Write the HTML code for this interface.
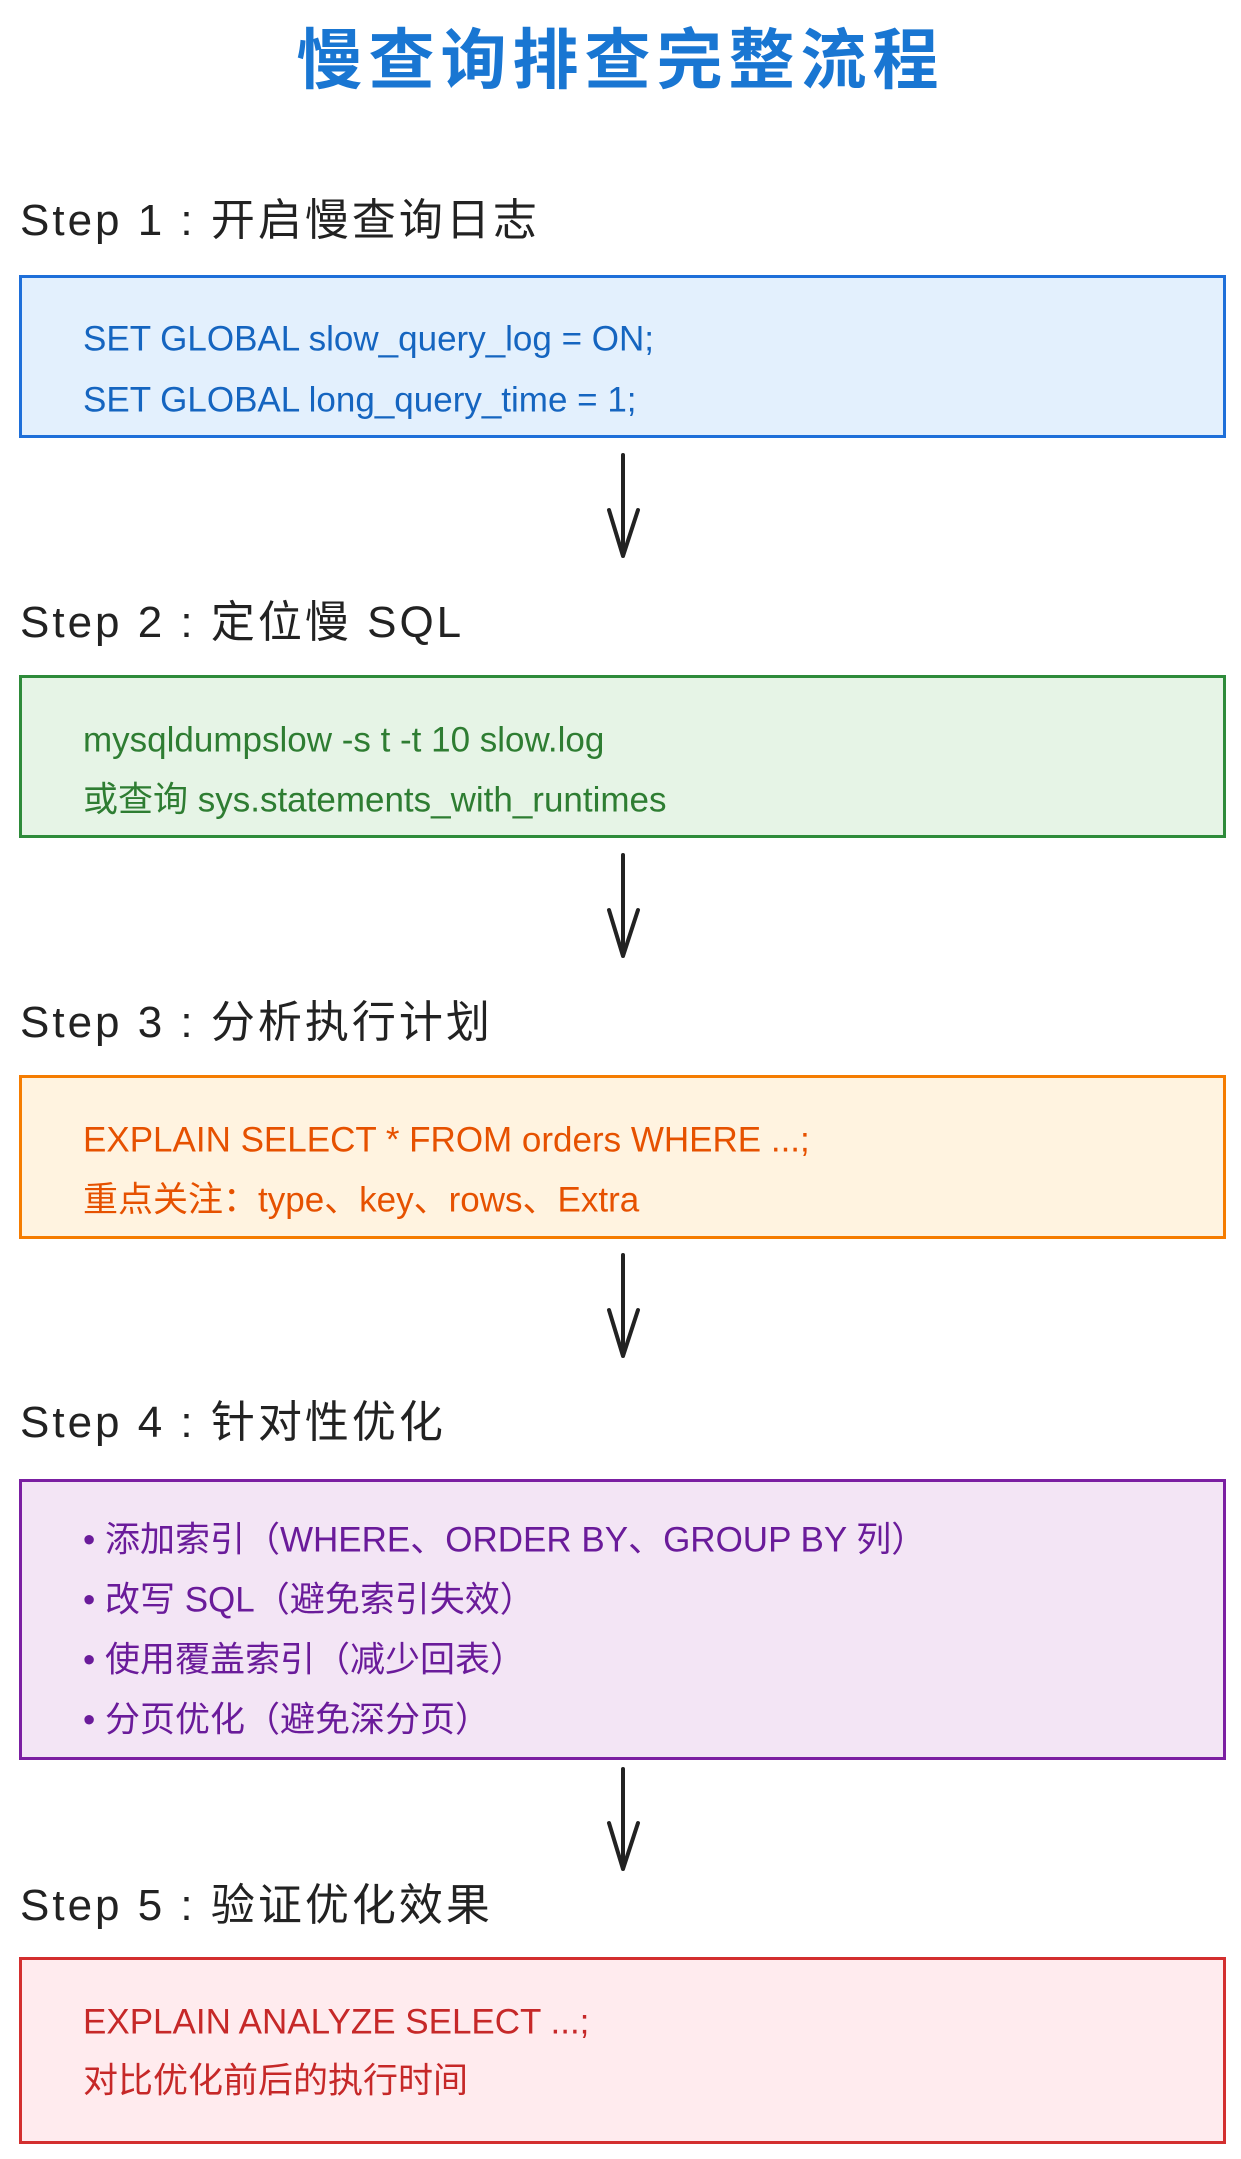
<!DOCTYPE html>
<html><head><meta charset="utf-8"><style>
body{margin:0;width:1241px;height:2159px;background:#fff;position:relative;overflow:hidden;font-family:"Liberation Sans","Noto Sans CJK SC",sans-serif}
.t{position:absolute;white-space:nowrap;line-height:1;transform:translateY(-50%)}
.title{left:0;width:1241px;text-align:center;top:60px;font-size:66px;color:#1976d2;font-weight:bold;letter-spacing:6px}
.lab{left:20px;font-size:44px;color:#222;letter-spacing:3px}
.box{position:absolute;left:19px;width:1201px;border:3px solid}
.ln{left:83px;font-size:35px}
</style></head><body>
<div class="t title">慢查询排查完整流程</div>

<div class="t lab" style="top:221px">Step 1 : 开启慢查询日志</div>
<div class="box" style="top:275px;height:157px;border-color:#1e6fd9;background:#e3f0fd"></div>
<div class="t ln" style="top:339px;color:#1565c0">SET GLOBAL slow_query_log = ON;</div>
<div class="t ln" style="top:400px;color:#1565c0">SET GLOBAL long_query_time = 1;</div>

<div class="t lab" style="top:623px">Step 2 : 定位慢 SQL</div>
<div class="box" style="top:675px;height:157px;border-color:#2e8b3a;background:#e6f4e6"></div>
<div class="t ln" style="top:740px;color:#2e7d32">mysqldumpslow -s t -t 10 slow.log</div>
<div class="t ln" style="top:800px;color:#2e7d32">或查询 sys.statements_with_runtimes</div>

<div class="t lab" style="top:1023px">Step 3 : 分析执行计划</div>
<div class="box" style="top:1075px;height:158px;border-color:#f57c00;background:#fff3e0"></div>
<div class="t ln" style="top:1140px;color:#e65100">EXPLAIN SELECT * FROM orders WHERE ...;</div>
<div class="t ln" style="top:1200px;color:#e65100">重点关注：type、key、rows、Extra</div>

<div class="t lab" style="top:1423px">Step 4 : 针对性优化</div>
<div class="box" style="top:1479px;height:275px;border-color:#7b1fa2;background:#f3e5f5"></div>
<div class="t ln" style="top:1540px;color:#6a1b9a">• 添加索引（WHERE、ORDER BY、GROUP BY 列）</div>
<div class="t ln" style="top:1600px;color:#6a1b9a">• 改写 SQL（避免索引失效）</div>
<div class="t ln" style="top:1660px;color:#6a1b9a">• 使用覆盖索引（减少回表）</div>
<div class="t ln" style="top:1720px;color:#6a1b9a">• 分页优化（避免深分页）</div>

<div class="t lab" style="top:1906px">Step 5 : 验证优化效果</div>
<div class="box" style="top:1957px;height:181px;border-color:#d32f2f;background:#ffebee"></div>
<div class="t ln" style="top:2022px;color:#c62828">EXPLAIN ANALYZE SELECT ...;</div>
<div class="t ln" style="top:2081px;color:#c62828">对比优化前后的执行时间</div>

<svg width="1241" height="2159" style="position:absolute;left:0;top:0" fill="none" stroke="#222" stroke-width="4" stroke-linecap="round" stroke-linejoin="round">
<path d="M623 455 L623 556 M609 510 L623 556 L638 510"/>
<path d="M623 855 L623 956 M609 910 L623 956 L638 910"/>
<path d="M623 1255 L623 1356 M609 1310 L623 1356 L638 1310"/>
<path d="M623 1769 L623 1869 M609 1823 L623 1869 L638 1823"/>
</svg>
</body></html>
